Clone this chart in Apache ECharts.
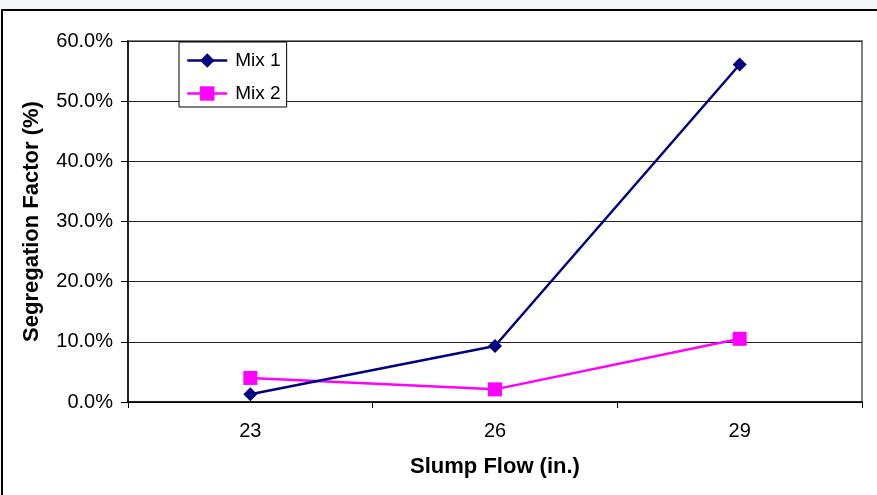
<!DOCTYPE html>
<html>
<head>
<meta charset="utf-8">
<script src="https://cdn.jsdelivr.net/npm/echarts@6/dist/echarts.min.js"></script>
<style>
  html, body { margin: 0; padding: 0; background: #f3f7fa; }
  #chart { width: 877px; height: 495px; }
</style>
</head>
<body>
<div id="chart"></div>
<script>
// 数据
var slumpFlow = ["23", "26", "29"];
var mix1 = [1.3, 9.3, 56.1];
var mix2 = [4.0, 2.1, 10.5];

(function () {
  var myChart = echarts.init(document.getElementById("chart"));
  var font = "Liberation Sans, Arial, sans-serif";
  var option = {
    animation: false,
    backgroundColor: "transparent",
    graphic: [
      // 外框
      {
        type: "rect",
        shape: { x: 2, y: 10, width: 900, height: 500 },
        style: { fill: "#ffffff", stroke: "#000000", lineWidth: 2 },
        z: -10
      },
      // 绘图区边框
      {
        type: "rect",
        shape: { x: 128, y: 41, width: 734, height: 361 },
        style: { fill: "none", stroke: "#808080", lineWidth: 2 },
        z: -1
      }
    ],
    grid: { left: 128, right: 15, top: 41, bottom: 93 },
    legend: {
      left: 179,
      top: 42,
      orient: "vertical",
      itemWidth: 40,
      itemHeight: 18,
      itemGap: 14,
      padding: [9, 6, 4, 7],
      borderColor: "#000",
      borderWidth: 1,
      backgroundColor: "#fff",
      lineStyle: { width: 2.5 },
      textStyle: { fontFamily: font, fontSize: 19, color: "#000", padding: [0, 0, 0, 3] },
      data: ["Mix 1", "Mix 2"]
    },
    xAxis: {
      type: "category",
      data: slumpFlow,
      boundaryGap: true,
      name: "Slump Flow (in.)",
      nameLocation: "middle",
      nameGap: 54,
      nameTextStyle: { fontFamily: font, fontSize: 22, fontWeight: "bold", color: "#000" },
      axisLine: { lineStyle: { color: "#000", width: 1.5 } },
      axisTick: { show: true, length: 6, inside: false, lineStyle: { color: "#000" } },
      axisLabel: { fontFamily: font, fontSize: 20, color: "#000", margin: 19 },
      splitLine: { show: false }
    },
    yAxis: {
      type: "value",
      min: 0,
      max: 60,
      interval: 10,
      name: "Segregation Factor (%)",
      nameLocation: "middle",
      nameGap: 85,
      nameTextStyle: { fontFamily: font, fontSize: 22, fontWeight: "bold", color: "#000" },
      axisLine: { show: true, lineStyle: { color: "#000", width: 1.5 } },
      axisTick: { show: true, length: 7, lineStyle: { color: "#000" } },
      axisLabel: {
        fontFamily: font, fontSize: 20, color: "#000", margin: 15,
        formatter: function (v) { return v.toFixed(1) + "%"; }
      },
      splitLine: { show: true, lineStyle: { color: "#222", width: 1.2 } }
    },
    series: [
      {
        name: "Mix 1",
        type: "line",
        data: mix1,
        symbol: "diamond",
        symbolSize: 14,
        lineStyle: { color: "#000080", width: 2.5 },
        itemStyle: { color: "#000080" },
        z: 3
      },
      {
        name: "Mix 2",
        type: "line",
        data: mix2,
        symbol: "rect",
        symbolSize: 14,
        lineStyle: { color: "#ff00ff", width: 2.5 },
        itemStyle: { color: "#ff00ff" },
        z: 2
      }
    ]
  };
  myChart.setOption(option);
  window.addEventListener("resize", function () {
    myChart.resize();
  });
})();
</script>
</body>
</html>
